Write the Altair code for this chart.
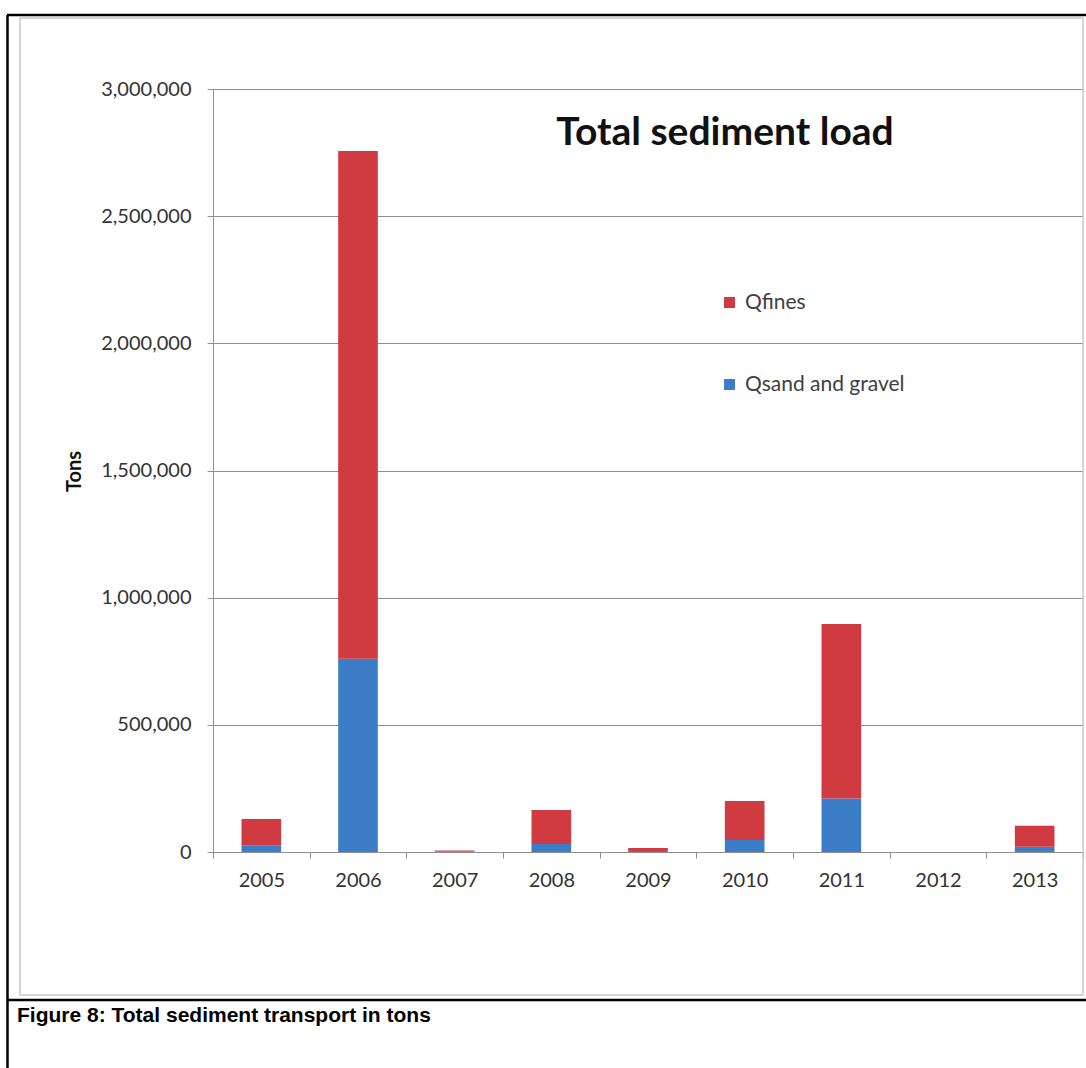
import altair as alt
import pandas as pd

# ---- data ----
years = ["2005", "2006", "2007", "2008", "2009", "2010", "2011", "2012", "2013"]
q_sand_gravel = [27000, 760000, 2000, 31000, 4000, 47000, 210000, 0, 21000]
q_fines = [103000, 1996000, 4000, 134000, 12000, 154000, 686000, 0, 82000]
series_names = ["Qfines", "Qsand and gravel"]
series_colors = ["#CF3B40", "#3B7DC6"]
y_ticks = [0, 500000, 1000000, 1500000, 2000000, 2500000, 3000000]
chart_title = "Total sediment load"
y_title = "Tons"
caption = "Figure 8: Total sediment transport in tons"

rows = []
for i, yr in enumerate(years):
    rows.append({"year": yr, "series": "Qsand and gravel", "value": q_sand_gravel[i], "ord": 0})
    rows.append({"year": yr, "series": "Qfines", "value": q_fines[i], "ord": 1})
df = pd.DataFrame(rows)

# plot-area placement inside the 1086x1068 page
PL, PT, PW, PH = 213, 89, 870, 763
one = alt.Data(values=[{"k": 1}])
GRID = "#8f8f8f"

bars = alt.Chart(df).mark_bar(width=alt.RelativeBandSize(0.41)).encode(
    x=alt.X("year:O", sort=years,
            scale=alt.Scale(paddingInner=0, paddingOuter=0),
            axis=alt.Axis(title=None, labelAngle=0, tickBand="extent", tickSize=6,
                          tickColor=GRID, domainColor=GRID, labelFont="Lato",
                          labelFontSize=20, labelColor="#333333", labelPadding=12, grid=False)),
    y=alt.Y("value:Q", stack="zero",
            scale=alt.Scale(domain=[0, 3000000], nice=False),
            axis=alt.Axis(values=y_ticks, format=",d", title=y_title, labelFont="Lato",
                          labelFontSize=20, labelColor="#333333", labelPadding=16,
                          tickSize=6, tickColor=GRID, domainColor=GRID, gridColor=GRID,
                          titleFont="Lato", titleFontWeight="bold", titleFontSize=20,
                          titleColor="#111111", titleAngle=270, titleX=-139, titleY=382,
                          titleAlign="center", titleBaseline="middle")),
    color=alt.Color("series:N", scale=alt.Scale(domain=series_names, range=series_colors),
                    legend=alt.Legend(orient="none", legendX=506, legendY=203, title=None,
                                      symbolType="square", symbolSize=120, symbolStrokeWidth=0,
                                      labelFont="Lato", labelFontSize=21, labelColor="#404040",
                                      rowPadding=60, labelOffset=5)),
    order=alt.Order("ord:Q", sort="ascending"),
)

def hrule(x1, x2, y, color, w):
    return alt.Chart(one).mark_rule(color=color, strokeWidth=w).encode(
        x=alt.value(x1 - PL), x2=alt.value(x2 - PL), y=alt.value(y - PT))

def vrule(x, y1, y2, color, w):
    return alt.Chart(one).mark_rule(color=color, strokeWidth=w).encode(
        x=alt.value(x - PL), y=alt.value(y1 - PT), y2=alt.value(y2 - PT))

inner = alt.Chart(one).mark_rect(fill=None, stroke="#c8c8c8", strokeWidth=1.5).encode(
    x=alt.value(20 - PL), x2=alt.value(1083 - PL), y=alt.value(18 - PT), y2=alt.value(995 - PT))

frame = [
    hrule(7, 1086, 15, "black", 2.5),
    hrule(7, 1086, 1000, "black", 2.5),
    vrule(7.5, 15, 1068, "black", 2.5),
]

title_mark = alt.Chart(one).mark_text(font="Lato", fontWeight="bold", fontSize=39,
                                      color="#111111", align="center", baseline="alphabetic").encode(
    x=alt.value(725 - PL), y=alt.value(145 - PT), text=alt.value(chart_title))

caption_mark = alt.Chart(one).mark_text(font="Liberation Sans", fontWeight="bold", fontSize=21,
                                        color="black", align="left", baseline="alphabetic").encode(
    x=alt.value(17 - PL), y=alt.value(1022 - PT), text=alt.value(caption))

chart = alt.layer(inner, *frame, bars, title_mark, caption_mark).properties(
    width=PW, height=PH,
    padding={"left": PL, "top": PT, "right": 1086 - PL - PW, "bottom": 1068 - PT - PH},
    autosize=alt.AutoSizeParams(type="none"),
    background="white",
).configure_view(stroke=None)

chart.save("out.html", embed_options={"renderer": "svg", "actions": False})
